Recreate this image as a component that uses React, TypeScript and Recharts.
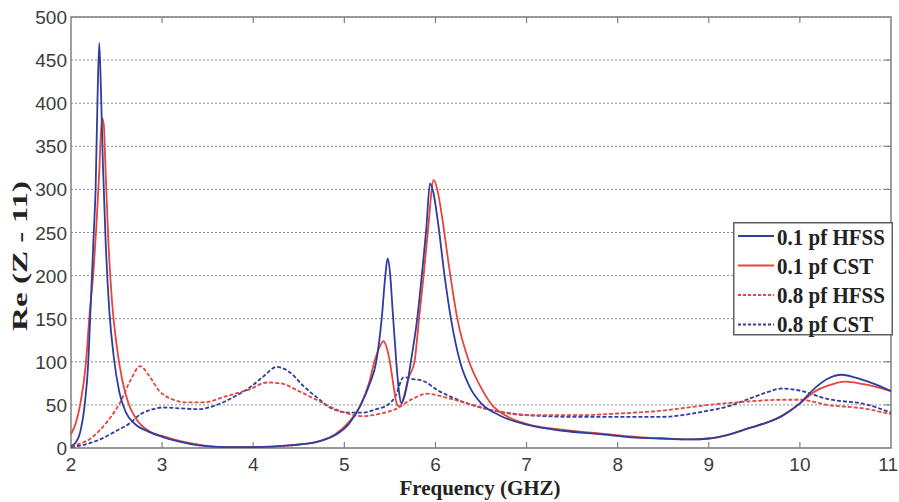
import React from 'react';
import {
  LineChart,
  Line,
  XAxis,
  YAxis,
  CartesianGrid,
  ReferenceArea,
  ReferenceLine,
  Legend,
} from 'recharts';

// ---- axis ticks ----
const xTicks = [2, 3, 4, 5, 6, 7, 8, 9, 10, 11];
const yTicks = [0, 50, 100, 150, 200, 250, 300, 350, 400, 450, 500];

// ---- series names ----
const seriesNames = ['0.1 pf HFSS', '0.1 pf CST', '0.8 pf HFSS', '0.8 pf CST'];

// ---- 0.1 pf HFSS (blue solid) ----
const hfss01Freq = [2.0, 2.05, 2.1, 2.15, 2.19, 2.21, 2.25, 2.27, 2.29, 2.31, 2.33, 2.35, 2.38, 2.42, 2.47, 2.53, 2.6, 2.7, 2.85, 3.0, 3.2, 3.4, 3.7, 4.0, 4.4, 4.73, 4.9, 5.05, 5.18, 5.28, 5.35, 5.41, 5.45, 5.475, 5.5, 5.53, 5.57, 5.6, 5.625, 5.66, 5.7, 5.73, 5.8, 5.85, 5.9, 5.94, 5.98, 6.03, 6.1, 6.17, 6.27, 6.38, 6.5, 6.7, 7.0, 7.4, 7.8, 8.2, 8.5, 8.8, 9.0, 9.2, 9.44, 9.65, 9.8, 9.98, 10.17, 10.3, 10.46, 10.6, 10.8, 11.0];
const hfss01Re = [2, 6, 18, 50, 100, 150, 250, 300, 400, 470, 410, 330, 240, 160, 105, 65, 42, 28, 19, 13, 7, 3, 1, 1, 3, 8, 15, 28, 50, 75, 100, 150, 200, 220, 205, 160, 100, 65, 52, 60, 80, 100, 150, 200, 255, 307, 295, 260, 200, 150, 100, 70, 52, 38, 27, 20, 16, 12, 11, 10, 11, 15, 23, 30, 37, 50, 70, 80, 85, 82, 75, 66];

// ---- 0.1 pf CST (red solid) ----
const cst01Freq = [2.0, 2.05, 2.1, 2.165, 2.2, 2.25, 2.28, 2.31, 2.34, 2.36, 2.38, 2.41, 2.45, 2.5, 2.56, 2.63, 2.72, 2.85, 3.0, 3.2, 3.4, 3.7, 4.0, 4.4, 4.73, 4.9, 5.05, 5.18, 5.27, 5.33, 5.39, 5.43, 5.46, 5.5, 5.54, 5.58, 5.61, 5.65, 5.7, 5.77, 5.82, 5.87, 5.92, 5.98, 6.02, 6.07, 6.15, 6.24, 6.37, 6.5, 6.62, 6.8, 7.0, 7.4, 7.8, 8.2, 8.5, 8.8, 9.0, 9.2, 9.44, 9.65, 9.8, 9.98, 10.17, 10.3, 10.5, 10.7, 11.0];
const cst01Re = [16, 28, 50, 100, 150, 210, 260, 320, 383, 375, 320, 240, 170, 120, 80, 52, 33, 20, 14, 8, 4, 1, 1, 3, 8, 16, 30, 50, 75, 100, 118, 124, 118, 100, 72, 50, 48, 58, 80, 100, 150, 200, 255, 311, 300, 270, 210, 150, 100, 70, 50, 36, 28, 21, 17, 13, 11, 10, 11, 15, 23, 30, 37, 50, 66, 72, 77, 74, 66];

// ---- 0.8 pf HFSS (red dashed) ----
const hfss08Freq = [2.0, 2.1, 2.2, 2.32, 2.43, 2.54, 2.65, 2.76, 2.85, 2.97, 3.1, 3.27, 3.45, 3.7, 3.96, 4.15, 4.3, 4.5, 4.73, 4.95, 5.2, 5.4, 5.56, 5.75, 5.91, 6.1, 6.37, 6.66, 7.03, 7.57, 8.0, 8.45, 9.0, 9.44, 9.8, 10.0, 10.3, 10.75, 11.0];
const hfss08Re = [2, 5, 10, 21, 35, 53, 78, 95, 85, 66, 57, 53, 53, 60, 68, 76, 75, 66, 54, 43, 37, 40, 45, 57, 63, 59, 51, 43, 38, 38, 40, 43, 50, 54, 56, 56, 50, 45, 39];

// ---- 0.8 pf CST (blue dashed) ----
const cst08Freq = [2.0, 2.15, 2.32, 2.5, 2.65, 2.76, 2.9, 3.0, 3.2, 3.4, 3.6, 3.8, 3.96, 4.1, 4.26, 4.4, 4.55, 4.73, 4.84, 5.06, 5.2, 5.35, 5.49, 5.56, 5.65, 5.75, 5.86, 6.04, 6.2, 6.37, 6.66, 7.03, 7.6, 8.12, 8.45, 8.98, 9.2, 9.44, 9.65, 9.8, 9.98, 10.3, 10.75, 11.0];
const cst08Re = [1, 4, 10, 20, 29, 39, 45, 47, 46, 45, 50, 60, 70, 82, 94, 88, 72, 56, 47, 41, 41, 45, 51, 60, 82, 80, 78, 66, 58, 51, 43, 38, 36, 36, 36, 43, 48, 57, 65, 69, 67, 57, 50, 41];

const toPoints = (freq: number[], re: number[]) =>
  freq.map((f, i) => ({ freq: f, re: re[i] }));

const BLUE = '#2f3d9c';
const RED = '#e4453e';
const FRAME = '#808080';

const series = [
  { name: seriesNames[3], data: toPoints(cst08Freq, cst08Re), color: BLUE, dash: '4 2' },
  { name: seriesNames[2], data: toPoints(hfss08Freq, hfss08Re), color: RED, dash: '4 2' },
  { name: seriesNames[1], data: toPoints(cst01Freq, cst01Re), color: RED, dash: undefined },
  { name: seriesNames[0], data: toPoints(hfss01Freq, hfss01Re), color: BLUE, dash: undefined },
];

const legendItems = [
  { name: seriesNames[0], color: BLUE, dash: undefined },
  { name: seriesNames[1], color: RED, dash: undefined },
  { name: seriesNames[2], color: RED, dash: '3 2' },
  { name: seriesNames[3], color: BLUE, dash: '3 2' },
];

const tickFont = '"Liberation Sans", Arial, sans-serif';
const labelFont = '"Liberation Serif", "Times New Roman", serif';

const XTick = (p: any) => {
  const last = p.payload.value === xTicks[xTicks.length - 1];
  return (
    <text
      x={last ? 898 : p.x}
      y={p.y + 23}
      textAnchor={last ? 'end' : 'middle'}
      fontFamily={tickFont}
      fontSize={19}
      fill="#3c3c3c"
    >
      {p.payload.value}
    </text>
  );
};

const YTick = (p: any) => (
  <text
    x={p.x - 4}
    y={p.y + 7}
    textAnchor="end"
    fontFamily={tickFont}
    fontSize={19}
    fill="#3c3c3c"
  >
    {p.payload.value}
  </text>
);

const renderLegend = () => (
  <svg width={160} height={114} style={{ display: 'block', overflow: 'visible' }}>
    <rect x={0.75} y={0.75} width={158.5} height={112} fill="#ffffff" stroke="#606060" strokeWidth={1.5} />
    {legendItems.map((it, i) => {
      const ly = 14 + i * 29.5;
      const by = 23 + i * 29;
      return (
        <g key={it.name}>
          <line x1={5} x2={41} y1={ly} y2={ly} stroke={it.color} strokeWidth={2} strokeDasharray={it.dash} />
          <text
            transform={`translate(44,${by}) scale(1,1.1)`}
            x={0}
            y={0}
            fontFamily={labelFont}
            fontWeight="bold"
            fontSize={21}
            fill="#222"
          >
            {it.name}
          </text>
        </g>
      );
    })}
  </svg>
);

export default function App() {
  return (
    <div style={{ position: 'absolute', left: 0, top: 0, width: 899, height: 502, background: '#fff' }}>
      <LineChart
        width={899}
        height={502}
        margin={{ top: 17, right: 8, bottom: 0, left: 0 }}
      >
        <CartesianGrid vertical={false} stroke="#8a8a8a" strokeDasharray="2 2" strokeWidth={1} />
        <XAxis
          type="number"
          dataKey="freq"
          domain={[2, 11]}
          ticks={xTicks}
          interval={0}
          allowDuplicatedCategory={false}
          height={54}
          tickSize={0}
          tickMargin={0}
          tickLine={false}
          axisLine={false}
          tick={<XTick />}
          label={{
            content: () => (
              <text x={480} y={495} textAnchor="middle" fontFamily={labelFont} fontWeight="bold" fontSize={21} fill="#222">
                Frequency (GHZ)
              </text>
            ),
          }}
        />
        <YAxis
          type="number"
          domain={[0, 500]}
          ticks={yTicks}
          interval={0}
          width={71}
          tickSize={0}
          tickMargin={0}
          tickLine={false}
          axisLine={false}
          tick={<YTick />}
          label={{
            content: () => (
              <text
                transform="translate(27,256) rotate(-90)"
                x={0}
                y={0}
                textAnchor="middle"
                fontFamily={labelFont}
                fontWeight="bold"
                fontSize={21}
                fill="#222"
                textLength={150}
                lengthAdjust="spacingAndGlyphs"
              >
                Re (Z - 11)
              </text>
            ),
          }}
        />
        <ReferenceArea x1={2} x2={11} y1={0} y2={500} fill="none" stroke={FRAME} strokeWidth={1.5} fillOpacity={0} />
        {xTicks.slice(1, -1).map((t) => (
          <ReferenceLine key={`bt${t}`} segment={[{ x: t, y: 0 }, { x: t, y: 7 }]} stroke={FRAME} strokeWidth={1.2} />
        ))}
        {xTicks.slice(1, -1).map((t) => (
          <ReferenceLine key={`tt${t}`} segment={[{ x: t, y: 500 }, { x: t, y: 493 }]} stroke={FRAME} strokeWidth={1.2} />
        ))}
        {yTicks.slice(1, -1).map((t) => (
          <ReferenceLine key={`rt${t}`} segment={[{ x: 11, y: t }, { x: 10.93, y: t }]} stroke={FRAME} strokeWidth={1.2} />
        ))}
        {series.map((s) => (
          <Line
            key={s.name}
            data={s.data}
            dataKey="re"
            name={s.name}
            type="monotone"
            stroke={s.color}
            strokeWidth={1.8}
            strokeDasharray={s.dash}
            dot={false}
            activeDot={false}
            isAnimationActive={false}
          />
        ))}
        <Legend
          layout="vertical"
          align="center"
          verticalAlign="middle"
          content={renderLegend}
          wrapperStyle={{ left: 733, top: 222, width: 160, height: 114 }}
        />
      </LineChart>
    </div>
  );
}
